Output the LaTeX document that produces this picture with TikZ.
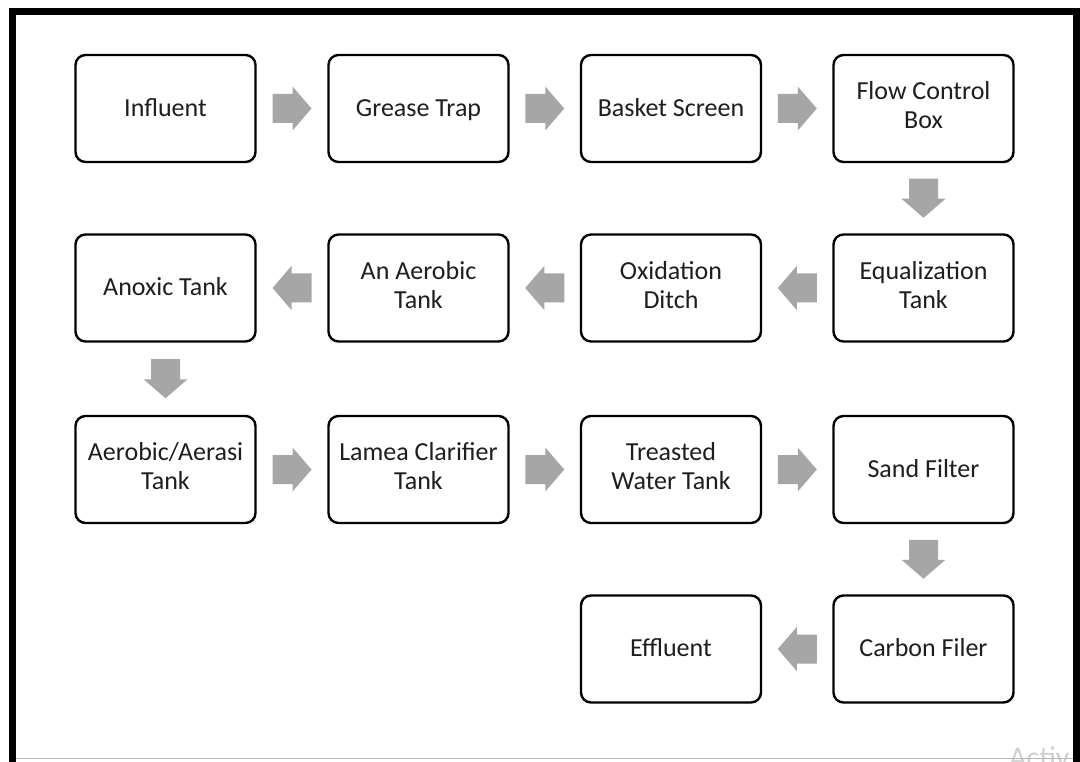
\documentclass[tikz,border=0pt]{standalone}
\usepackage{fontspec}
\setmainfont{Carlito}
\usetikzlibrary{calc}
\definecolor{arrowgray}{HTML}{A6A6A6}
\definecolor{marktext}{HTML}{D0D0D0}
\definecolor{labeltext}{HTML}{1E1E1E}
% line strut that keeps the labels optically centred in their boxes
\newcommand{\labelstrut}{\rule[-6.7pt]{0pt}{29pt}}
\tikzset{
  stage/.style={draw=black, line width=2.4pt, rounded corners=10pt,
    minimum width=180pt, minimum height=107pt, align=center, text=labeltext,
    font=\fontsize{26}{29}\selectfont, inner sep=2pt,
    execute at begin node=\labelstrut, execute at end node=\labelstrut},
  flowarrow/.pic={\fill[arrowgray] (-19.5,-14.5) -- (0.5,-14.5) -- (0.5,-22)
      -- (19.5,0) -- (0.5,22) -- (0.5,14.5) -- (-19.5,14.5) -- cycle;}
}
\begin{document}
\begin{tikzpicture}[x=1pt,y=-1pt]
\useasboundingbox (0,0) rectangle (1080,762);
\fill[white] (0,0) rectangle (1080,762);

% process stages, four columns by four rows
\node[stage] (influent) at (165.5,108.5) {Influent};
\node[stage] (grease)   at (418.5,108.5) {Grease Trap};
\node[stage] (basket)   at (671,108.5)   {Basket Screen};
\node[stage] (flowbox)  at (923.5,108.5) {Flow Control\\Box};

\node[stage] (anoxic)   at (165.5,288) {Anoxic Tank};
\node[stage] (anaer)    at (418.5,288) {An Aerobic\\Tank};
\node[stage] (oxid)     at (671,288)   {Oxidation\\Ditch};
\node[stage] (equal)    at (923.5,288) {Equalization\\Tank};

\node[stage] (aerasi)   at (165.5,469.5) {Aerobic/Aerasi\\Tank};
\node[stage] (lamea)    at (418.5,469.5) {Lamea Clarifier\\Tank};
\node[stage] (treated)  at (671,469.5)   {Treasted\\Water Tank};
\node[stage] (sand)     at (923.5,469.5) {Sand Filter};

\node[stage] (effluent) at (671,649)   {Effluent};
\node[stage] (carbon)   at (923.5,649) {Carbon Filer};

% block arrows between stages
\pic at ($(influent.east)!0.5!(grease.west)$) {flowarrow};
\pic at ($(grease.east)!0.5!(basket.west)$) {flowarrow};
\pic at ($(basket.east)!0.5!(flowbox.west)$) {flowarrow};
\pic[rotate=-90] at ($(flowbox.south)!0.5!(equal.north)$) {flowarrow};
\pic[rotate=180] at ($(equal.west)!0.5!(oxid.east)$) {flowarrow};
\pic[rotate=180] at ($(oxid.west)!0.5!(anaer.east)$) {flowarrow};
\pic[rotate=180] at ($(anaer.west)!0.5!(anoxic.east)$) {flowarrow};
\pic[rotate=-90] at ($(anoxic.south)!0.5!(aerasi.north)$) {flowarrow};
\pic at ($(aerasi.east)!0.5!(lamea.west)$) {flowarrow};
\pic at ($(lamea.east)!0.5!(treated.west)$) {flowarrow};
\pic at ($(treated.east)!0.5!(sand.west)$) {flowarrow};
\pic[rotate=-90] at ($(sand.south)!0.5!(carbon.north)$) {flowarrow};
\pic[rotate=180] at ($(carbon.west)!0.5!(effluent.east)$) {flowarrow};

% faint overlay text at the lower right corner, partly hidden by the frame
\node[anchor=base west, text=marktext, font=\fontsize{30}{30}\selectfont,
      inner sep=0pt] (mark) at (1009,767) {Activ};

% outer frame
\draw[gray!55, line width=1pt] (9,758) -- (1073,758);
\draw[black, line width=7pt] (12.5,775) -- (12.5,11.5) -- (1076.5,11.5) -- (1076.5,775);
\end{tikzpicture}
\end{document}
